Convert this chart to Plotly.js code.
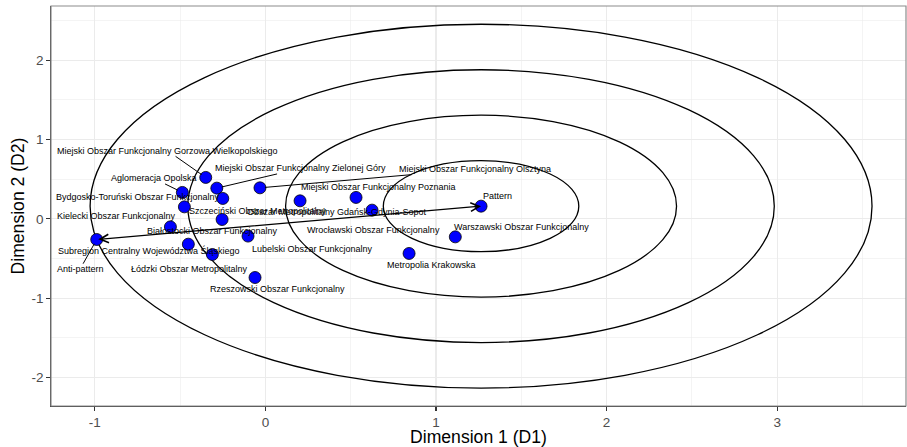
<!DOCTYPE html>
<html>
<head>
<meta charset="utf-8">
<script src="https://cdn.plot.ly/plotly-3.0.1.min.js"></script>
<style>html,body{margin:0;padding:0;background:#fff}#chart{width:907px;height:447px}</style>
</head>
<body>
<div id="chart"></div>
<script>
// ---- data ----
const regions = [
  "Miejski Obszar Funkcjonalny Gorzowa Wielkopolskiego",
  "Aglomeracja Opolska",
  "Miejski Obszar Funkcjonalny Zielonej Góry",
  "Miejski Obszar Funkcjonalny Olsztyna",
  "Bydgosko-Toruński Obszar Funkcjonalny",
  "Kielecki Obszar Funkcjonalny",
  "Szczeciński Obszar Metropolitalny",
  "Obszar Metropolitalny Gdańsk-Gdynia-Sopot",
  "Miejski Obszar Funkcjonalny Poznania",
  "Wrocławski Obszar Funkcjonalny",
  "Białostocki Obszar Funkcjonalny",
  "Subregion Centralny Województwa Śląskiego",
  "Lubelski Obszar Funkcjonalny",
  "Łódzki Obszar Metropolitalny",
  "Rzeszowski Obszar Funkcjonalny",
  "Metropolia Krakowska",
  "Warszawski Obszar Funkcjonalny"
];
const d1 = [-0.350, -0.487, -0.285, -0.032, -0.250, -0.475, -0.254, 0.203, 0.531, 0.625, -0.557, -0.452, -0.102, -0.311, -0.061, 0.842, 1.113];
const d2 = [0.522, 0.333, 0.387, 0.391, 0.257, 0.151, -0.008, 0.227, 0.270, 0.110, -0.101, -0.319, -0.217, -0.449, -0.739, -0.436, -0.227];
const patternName = "Pattern";
const patternD1 = 1.264, patternD2 = 0.160;
const antiName = "Anti-pattern";
const antiD1 = -0.989, antiD2 = -0.260;
const xTicks = [-1, 0, 1, 2, 3];
const yTicks = [-2, -1, 0, 1, 2];

// ---- label placement (pixels, relative to the point) ----
const labDx = [-38, -28.5, 83.6, 215, -85, -68, 36, 36.7, 22.3, 1, 42, -40, 64, -23.3, 22.5, 22, 66];
const labDy = [-26.6, -14, -19.7, -18.7, -1.5, 9, -8, 11.3, -10.6, 19.5, 4.3, 6.7, 13, 15, 11, 11.7, -10];
const labSeg = [1, 1, 1, 1, 0, 0, 0, 0, 0, 0, 0, 0, 0, 0, 0, 0, 0];

const allX = d1.concat([patternD1, antiD1]);
const allY = d2.concat([patternD2, antiD2]);
const allNames = regions.concat([patternName, antiName]);
const allDx = labDx.concat([16.7, -16.7]);
const allDy = labDy.concat([-10, 29.7]);
const allSeg = labSeg.concat([0, 1]);

const FONT = "Arial, 'Liberation Sans', sans-serif";

const radius = Math.hypot(patternD1 - antiD1, patternD2 - antiD2);
const shapes = [];
[1, 2, 3, 4].forEach(k => {
  const r = radius * k / 4;
  shapes.push({type: 'circle', xref: 'x', yref: 'y', layer: 'between',
    x0: patternD1 - r, x1: patternD1 + r, y0: patternD2 - r, y1: patternD2 + r,
    line: {color: '#000', width: 1.3}});
});
// panel border
shapes.push({type: 'rect', xref: 'paper', yref: 'paper', x0: 0, x1: 1, y0: 0, y1: 1,
  line: {color: '#8c8c8c', width: 1.2}, layer: 'above'});

const annotations = allNames.map((n, i) => ({
  x: allX[i], y: allY[i], xref: 'x', yref: 'y', text: n,
  showarrow: true, ax: allDx[i], ay: allDy[i], axref: 'pixel', ayref: 'pixel',
  arrowhead: 0, arrowwidth: 1, standoff: 5,
  arrowcolor: allSeg[i] ? '#000' : 'rgba(0,0,0,0)',
  font: {family: FONT, size: 9, color: '#000'},
  borderpad: 0
}));
// double-headed arrow between anti-pattern and pattern
annotations.unshift({
  x: patternD1, y: patternD2, ax: antiD1, ay: antiD2, xref: 'x', yref: 'y', axref: 'x', ayref: 'y',
  text: '', showarrow: true, arrowside: 'end+start', arrowhead: 5, startarrowhead: 5,
  arrowsize: 1.3, startarrowsize: 1.3, arrowwidth: 1.3, arrowcolor: '#000', standoff: 0, startstandoff: 0
});

const trace = {
  type: 'scatter', mode: 'markers', x: allX, y: allY, text: allNames,
  marker: {color: '#0000FF', size: 12, line: {color: '#000', width: 0.8}},
  hoverinfo: 'text', cliponaxis: false
};

const layout = {
  width: 907, height: 447,
  margin: {l: 51, r: 1, t: 6, b: 41},
  paper_bgcolor: '#fff', plot_bgcolor: '#fff',
  showlegend: false,
  font: {family: FONT},
  xaxis: {
    range: [-1.257, 3.755], tickvals: xTicks, ticktext: xTicks.map(String),
    showgrid: true, gridcolor: '#EBEBEB', gridwidth: 1.1, zeroline: false,
    minor: {dtick: 0.5, tick0: 0, showgrid: true, gridcolor: '#EBEBEB', gridwidth: 0.55, ticks: ''},
    showline: true, linecolor: '#333', linewidth: 1.2,
    ticks: 'outside', ticklen: 3.5, tickcolor: '#333', tickwidth: 1.1,
    tickfont: {family: FONT, size: 13.5, color: '#4D4D4D'},
    title: {text: 'Dimension 1 (D1)', font: {family: FONT, size: 17.6, color: '#000'}, standoff: 5},
    automargin: false
  },
  yaxis: {
    range: [-2.358, 2.682], tickvals: yTicks, ticktext: yTicks.map(String),
    showgrid: true, gridcolor: '#EBEBEB', gridwidth: 1.1, zeroline: false,
    minor: {dtick: 0.5, tick0: 0, showgrid: true, gridcolor: '#EBEBEB', gridwidth: 0.55, ticks: ''},
    showline: true, linecolor: '#333', linewidth: 1.2,
    ticks: 'outside', ticklen: 3.5, tickcolor: '#333', tickwidth: 1.1,
    tickfont: {family: FONT, size: 13.5, color: '#4D4D4D'},
    title: {text: 'Dimension 2 (D2)', font: {family: FONT, size: 17.6, color: '#000'}, standoff: 2},
    automargin: false
  },
  shapes: shapes,
  annotations: annotations
};

Plotly.newPlot('chart', [trace], layout, {staticPlot: true, displayModeBar: false});
</script>
</body>
</html>
